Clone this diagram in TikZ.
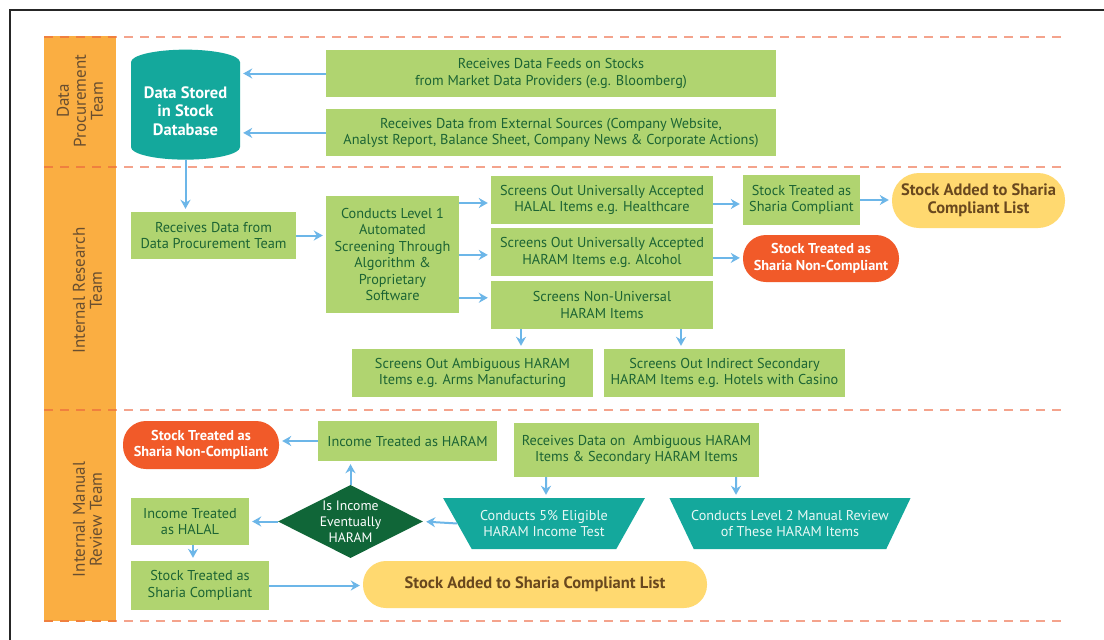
\documentclass[tikz,border=0pt]{standalone}
\usepackage{fontspec}
\setmainfont{PT Sans}
\usetikzlibrary{arrows.meta, positioning, shapes.geometric}
\definecolor{lanebg}{RGB}{250,174,66}
\definecolor{lanedash}{RGB}{240,128,62}
\definecolor{lanetext}{RGB}{104,78,48}
\definecolor{swimdash}{RGB}{244,163,140}
\definecolor{boxgreen}{RGB}{176,212,112}
\definecolor{boxtext}{RGB}{28,100,52}
\definecolor{dbteal}{RGB}{20,168,156}
\definecolor{traptext}{RGB}{232,248,245}
\definecolor{pillred}{RGB}{241,90,41}
\definecolor{pillyellow}{RGB}{255,217,112}
\definecolor{pilltext}{RGB}{105,72,30}
\definecolor{decgreen}{RGB}{16,102,56}
\definecolor{flowblue}{RGB}{108,182,232}
\tikzset{
  lanelabel/.style={rotate=90, align=center, text=lanetext, font=\fontsize{17}{17}\selectfont},
  swimline/.style={draw=swimdash, line width=2pt, dash pattern=on 9pt off 7pt},
  greenbox/.style={
    rectangle, fill=boxgreen, text=boxtext, align=center, inner sep=1pt,
    font=\fontsize{14.3}{16.5}\selectfont
  },
  dbnode/.style={
    cylinder, shape border rotate=90, aspect=0.3, fill=dbteal, text=white,
    align=center, inner sep=0pt, minimum width=109pt, minimum height=110pt,
    font=\bfseries\fontsize{16.5}{18.5}\selectfont
  },
  redpill/.style={
    rectangle, rounded corners=23pt, fill=pillred, text=white, align=center,
    font=\bfseries\fontsize{14.3}{16.5}\selectfont
  },
  yellowpill/.style={
    rectangle, rounded corners=23pt, fill=pillyellow, text=pilltext, align=center,
    font=\bfseries\fontsize{16.5}{18}\selectfont
  },
  decision/.style={
    diamond, aspect=2, fill=decgreen, text=white, align=center, inner sep=0pt,
    minimum width=145pt, minimum height=73pt, font=\fontsize{13.7}{16}\selectfont
  },
  trapbox/.style={
    trapezium, shape border rotate=180, trapezium left angle=54,
    trapezium right angle=54, trapezium stretches=true, fill=dbteal,
    text=traptext, align=center, minimum height=51pt, inner xsep=-2.5pt,
    font=\fontsize{14.2}{16.5}\selectfont
  },
  flow/.style={-{Stealth[length=9pt,width=10pt]}, line width=2pt, draw=flowblue, shorten >=3pt}
}
\begin{document}
\begin{tikzpicture}[x=1pt,y=1pt]
\useasboundingbox (0,0) rectangle (1104,-640);
\fill[white] (0,0) rectangle (1104,-640);
\draw[line width=2.5pt, black!85] (10,-640) -- (10,-10) -- (1104,-10);

% swim lanes
\fill[lanebg] (44,-36) rectangle (116,-621);
\foreach \ly in {37,167,410,621} {
  \draw[swimline] (44,-\ly) -- (1065,-\ly);
  \draw[swimline, draw=lanedash] (44,-\ly) -- (116,-\ly);
}
\node[lanelabel] (lab1) at (80,-101) {Data\\Procurement\\Team};
\node[lanelabel] (lab2) at (87.5,-290.5) {Internal Research\\Team};
\node[lanelabel] (lab3) at (87.5,-519.5) {Internal Manual\\Review Team};

% data procurement
\node[dbnode] (db) at (185.5,-111) {Data Stored\\in Stock\\Database};
\node[greenbox, minimum width=450pt, minimum height=47pt] (feeds) at (551,-73.5) {Receives Data Feeds on Stocks\\from Market Data Providers (e.g. Bloomberg)};
\node[greenbox, minimum width=450pt, minimum height=47pt, below=12pt of feeds] (extsrc) {Receives Data from External Sources (Company Website,\\Analyst Report, Balance Sheet, Company News \& Corporate Actions)};

\draw[flow] (feeds.west) -- (feeds.west -| db.east);
\draw[flow] (extsrc.west) -- (extsrc.west -| db.east);

% internal research
\node[greenbox, minimum width=165pt, minimum height=47pt] (recv) at (213.5,-235.5) {Receives Data from\\Data Procurement Team};
\node[greenbox, minimum width=133pt, minimum height=117pt] (lvl1) at (392.5,-254.5) {Conducts Level 1\\Automated\\Screening Through\\Algorithm \&\\Proprietary\\Software};
\node[greenbox, minimum width=222pt, minimum height=48pt] (halal) at (602,-200) {Screens Out Universally Accepted\\HALAL Items e.g. Healthcare};
\node[greenbox, minimum width=222pt, minimum height=48pt, below=4pt of halal] (haram) {Screens Out Universally Accepted\\HARAM Items e.g. Alcohol};
\node[greenbox, minimum width=222pt, minimum height=48pt, below=4pt of haram] (nonuni) {Screens Non-Universal\\HARAM Items};
\node[greenbox, minimum width=117pt, minimum height=50pt] (compl1) at (801.5,-200) {Stock Treated as\\Sharia Compliant};
\node[yellowpill, rounded corners=27pt, minimum width=173pt, minimum height=55pt] (list1) at (978.5,-200.5) {Stock Added to Sharia\\Compliant List};
\node[redpill, minimum width=156pt, minimum height=47pt] (noncomp1) at (821,-258.5) {Stock Treated as\\Sharia Non-Compliant};
\node[greenbox, minimum width=241pt, minimum height=48pt] (ambig) at (472.5,-373) {Screens Out Ambiguous HARAM\\Items e.g. Arms Manufacturing};
\node[greenbox, minimum width=241pt, minimum height=48pt] (indirect) at (724.5,-373) {Screens Out Indirect Secondary\\HARAM Items e.g. Hotels with Casino};

\draw[flow] (db.south) -- (db.south |- recv.north);
\draw[flow] (recv.east) -- (recv.east -| lvl1.west);
\draw[flow] ([yshift=-3pt]lvl1.east |- halal.west) -- ([yshift=-3pt]halal.west);
\draw[flow] ([yshift=-2.5pt]lvl1.east |- haram.west) -- ([yshift=-2.5pt]haram.west);
\draw[flow] ([yshift=7pt]lvl1.east |- nonuni.west) -- ([yshift=7pt]nonuni.west);
\draw[flow] ([yshift=-4pt]halal.east) -- ([yshift=-4pt]halal.east -| compl1.west);
\draw[flow] (compl1.east) -- (compl1.east -| list1.west);
\draw[flow] ([yshift=-5.5pt]haram.east) -- ([yshift=-5.5pt]haram.east -| noncomp1.west);
\draw[flow] ([xshift=-81pt]nonuni.south) -- ([xshift=48.5pt]ambig.north);
\draw[flow] ([xshift=79pt]nonuni.south) -- ([xshift=-43.5pt]indirect.north);

% internal manual review
\node[redpill, minimum width=156pt, minimum height=48pt] (noncomp2) at (201,-445) {Stock Treated as\\Sharia Non-Compliant};
\node[greenbox, minimum width=179pt, minimum height=40pt] (incharam) at (407.5,-441) {Income Treated as HARAM};
\node[greenbox, minimum width=245pt, minimum height=54pt] (recvamb) at (636.5,-450) {Receives Data on\ \ Ambiguous HARAM\\Items \& Secondary HARAM Items};
\node[trapbox, minimum width=202pt] (test5) at (544,-523.5) {Conducts 5\% Eligible\\HARAM Income Test};
\node[trapbox, minimum width=240pt] (level2) at (790,-523.5) {Conducts Level 2 Manual Review\\of These HARAM Items};
\node[decision] (dec) at (350.5,-521.5) {Is Income\\Eventually\\HARAM};
\node[greenbox, minimum width=118pt, minimum height=47pt] (inchalal) at (190,-521.5) {Income Treated\\as HALAL};
\node[greenbox, minimum width=138pt, minimum height=49pt] (compl2) at (200,-585.5) {Stock Treated as\\Sharia Compliant};
\node[yellowpill, minimum width=344pt, minimum height=47pt] (list2) at (535,-584.5) {Stock Added to Sharia Compliant List};

\draw[flow] (incharam.west) -- (incharam.west -| noncomp2.east);
\draw[flow] ([xshift=-90.5pt]recvamb.south) -- ([xshift=2pt]test5.north);
\draw[flow] ([xshift=99.5pt]recvamb.south) -- ([xshift=-54pt]level2.north);
\draw[flow] (test5.west) -- (dec.east);
\draw[flow] (dec.north) -- (dec.north |- incharam.south);
\draw[flow] (dec.west) -- (dec.west -| inchalal.east);
\draw[flow] ([xshift=3pt]inchalal.south) -- ([xshift=-7pt]compl2.north);
\draw[flow] (compl2.east) -- (compl2.east -| list2.west);

\end{tikzpicture}
\end{document}
